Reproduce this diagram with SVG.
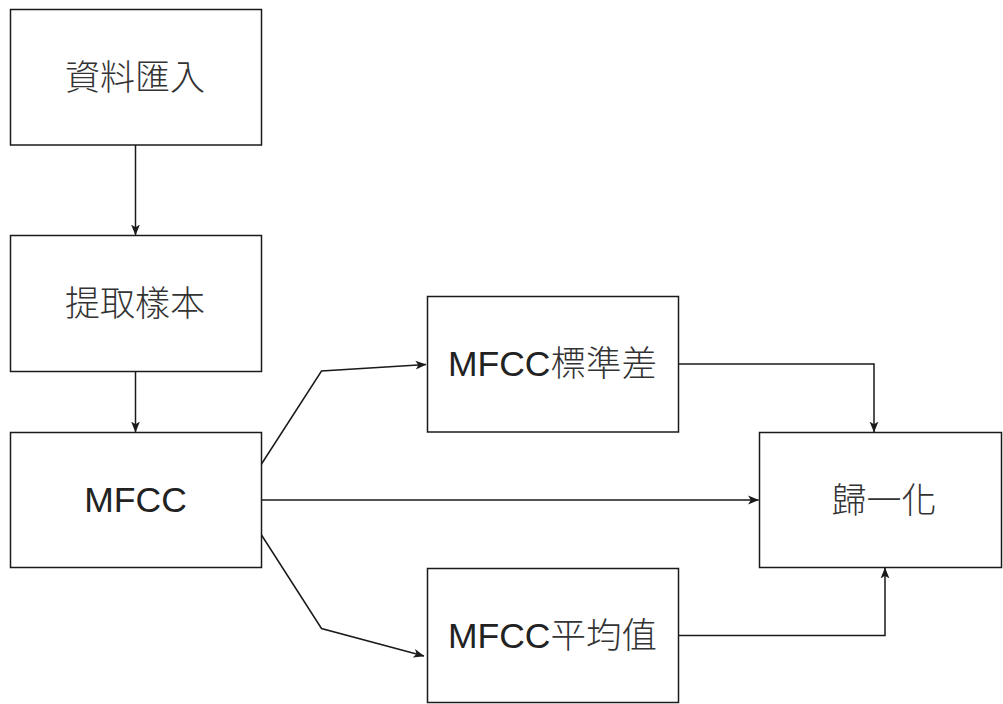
<svg xmlns="http://www.w3.org/2000/svg" width="1003" height="704" viewBox="0 0 1003 704">
  <style>
    .box { fill: #ffffff; stroke: #1a1a1a; stroke-width: 1.5; }
    .lbl { font-family: "Liberation Sans", "Noto Sans CJK TC", sans-serif; font-size: 35.5px; fill: #222222; text-anchor: middle; }
    .cjk { font-family: "Noto Sans CJK TC", "Noto Sans CJK SC", sans-serif; font-size: 35px; fill: #333333; text-anchor: middle; font-weight: 300; }
    .edge { fill: none; stroke: #1a1a1a; stroke-width: 1.5; }
  </style>
  <defs>
    <marker id="arrow" viewBox="0 0 10 10" refX="9.5" refY="5" markerWidth="11" markerHeight="11" markerUnits="userSpaceOnUse" orient="auto">
      <path d="M0,1 L10,5 L0,9 L2.5,5 Z" fill="#1a1a1a"/>
    </marker>
  </defs>
  <rect width="1003" height="704" fill="#ffffff"/>

  <g id="node-import">
    <rect class="box" x="10.5" y="9.5" width="251" height="135.5"/>
    <text class="cjk" x="135" y="90">資料匯入</text>
  </g>
  <g id="node-sample">
    <rect class="box" x="10.5" y="235.5" width="251" height="136"/>
    <text class="cjk" x="135" y="316">提取樣本</text>
  </g>
  <g id="node-mfcc">
    <rect class="box" x="10.5" y="432.5" width="251" height="135"/>
    <text class="lbl" x="135.5" y="512">MFCC</text>
  </g>
  <g id="node-std">
    <rect class="box" x="427.5" y="296.5" width="251" height="135.5"/>
    <text class="lbl" x="552.5" y="376">MFCC<tspan style="font-family:'Noto Sans CJK TC','Noto Sans CJK SC',sans-serif;fill:#333333;font-weight:300">標準差</tspan></text>
  </g>
  <g id="node-mean">
    <rect class="box" x="427.5" y="568.5" width="251" height="134"/>
    <text class="lbl" x="552.5" y="648">MFCC<tspan style="font-family:'Noto Sans CJK TC','Noto Sans CJK SC',sans-serif;fill:#333333;font-weight:300">平均值</tspan></text>
  </g>
  <g id="node-norm">
    <rect class="box" x="759.5" y="432.5" width="242" height="135"/>
    <text class="cjk" x="884" y="513">歸一化</text>
  </g>

  <g id="connectors">
    <path class="edge" d="M135.5,145 L135.5,235" marker-end="url(#arrow)"/>
    <path class="edge" d="M135.5,371.5 L135.5,432" marker-end="url(#arrow)"/>
    <path class="edge" d="M261.5,464 L321.5,371 L426,364.5" marker-end="url(#arrow)"/>
    <path class="edge" d="M261.5,500 L758.5,500" marker-end="url(#arrow)"/>
    <path class="edge" d="M261.5,535 L321.5,628.5 L424,656" marker-end="url(#arrow)"/>
    <path class="edge" d="M678.5,364 L874,364 L874,432" marker-end="url(#arrow)"/>
    <path class="edge" d="M678.5,635.5 L885,635.5 L885,568" marker-end="url(#arrow)"/>
  </g>
</svg>
